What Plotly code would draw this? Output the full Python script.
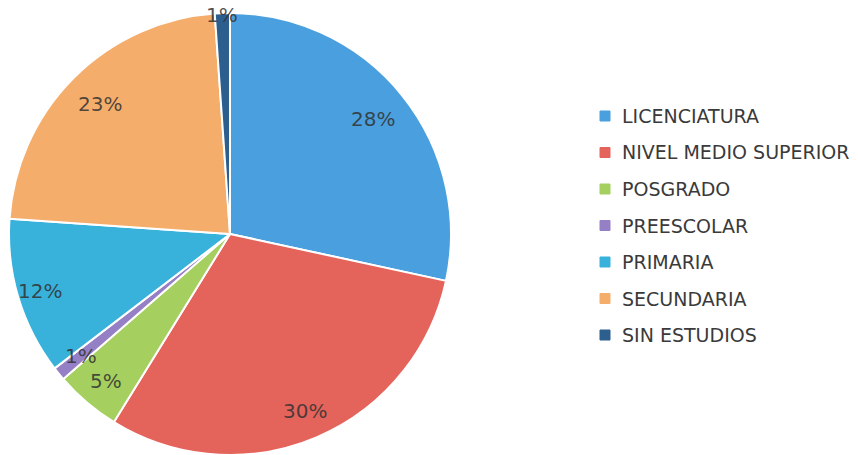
import math

import plotly.graph_objects as go

# data
categories = [
    "LICENCIATURA",
    "NIVEL MEDIO SUPERIOR",
    "POSGRADO",
    "PREESCOLAR",
    "PRIMARIA",
    "SECUNDARIA",
    "SIN ESTUDIOS",
]
shares = [28.4, 30.4, 4.8, 1.0, 11.5, 22.8, 1.1]
colors = ["#4A9FDE", "#E4635B", "#A5CF5E", "#9580C6", "#38B1DB", "#F5AD6C", "#2C5F8E"]

W, H = 858, 455
# pie geometry in pixels (centre / radius)
cx, cy, rad = 230, 234, 221
# radial position of each % label, as a fraction of the radius
label_r = [0.83, 0.87, 0.87, 0.87, 0.9, 0.83, 0.99]
text_col = "rgba(50,50,50,0.85)"
font_fam = "DejaVu Sans, sans-serif"

fig = go.Figure(
    go.Pie(
        labels=categories,
        values=shares,
        sort=False,
        direction="clockwise",
        rotation=0,
        marker=dict(colors=colors, line=dict(color="white", width=2)),
        textinfo="none",
        hoverinfo="label+percent",
        domain=dict(x=[(cx - rad) / W, (cx + rad) / W], y=[0, 1 - (cy - rad) / H]),
        showlegend=False,
    )
)

# percentage labels placed at the mid-angle of each slice
total = sum(shares)
acc = 0
for i, v in enumerate(shares):
    mid = (acc + v / 2) / total * 2 * math.pi
    acc += v
    r = rad * label_r[i]
    px = cx + r * math.sin(mid)
    py = cy - r * math.cos(mid)
    fig.add_annotation(
        x=px / W,
        y=1 - py / H,
        xref="paper",
        yref="paper",
        xanchor="center",
        yanchor="middle",
        text=f"{round(v / total * 100)}%",
        showarrow=False,
        font=dict(size=20, color=text_col, family=font_fam),
    )

# legend drawn by hand to get Excel-like row spacing
leg_x, leg_y0, leg_dy, sq = 600, 116, 36.5, 10
for i, (name, col) in enumerate(zip(categories, colors)):
    yc = leg_y0 + i * leg_dy
    fig.add_shape(
        type="rect",
        xref="paper",
        yref="paper",
        x0=leg_x / W,
        x1=(leg_x + sq) / W,
        y0=1 - (yc - sq / 2) / H,
        y1=1 - (yc + sq / 2) / H,
        fillcolor=col,
        line=dict(color=col, width=1),
    )
    fig.add_annotation(
        x=(leg_x + sq + 10) / W,
        y=1 - yc / H,
        xref="paper",
        yref="paper",
        xanchor="left",
        yanchor="middle",
        text=name,
        showarrow=False,
        font=dict(size=19, color="#3a3a3a", family=font_fam),
    )

fig.update_layout(
    width=W,
    height=H,
    margin=dict(l=0, r=0, t=0, b=0),
    paper_bgcolor="white",
    plot_bgcolor="white",
)

# drop the default page margin so the figure sits at the window origin
fig.write_html(
    "out.html",
    config={"displayModeBar": False},
    post_script="document.body.style.margin='0';",
)
